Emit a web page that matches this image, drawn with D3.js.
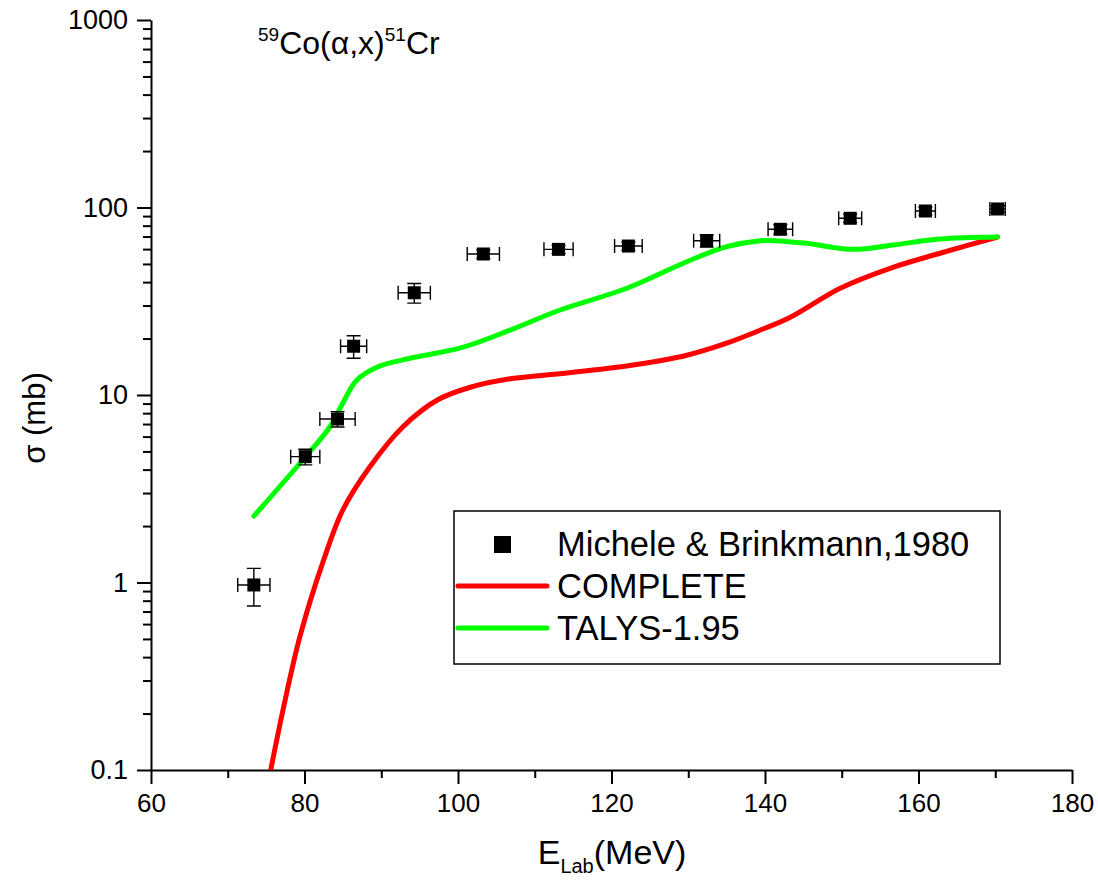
<!DOCTYPE html>
<html>
<head>
<meta charset="utf-8">
<script src="https://cdn.jsdelivr.net/npm/d3@7"></script>
<style>
body { margin:0; background:#fff; }
svg text { font-family: Arial, "Liberation Sans", sans-serif; fill:#000; }
</style>
</head>
<body>
<svg id="chart" width="1098" height="886"></svg>
<script>
// experimental points, Michele & Brinkmann 1980
var exp_e   = [73.4, 80.1, 84.3, 86.4, 94.3, 103.3, 113.1, 122.2, 132.4, 142.0, 151.1, 160.9, 170.3]
var exp_de  = [2.1, 1.9, 2.3, 1.7, 2.1, 2.1, 1.9, 1.8, 1.7, 1.6, 1.5, 1.3, 1.0]
var exp_sig = [0.97, 4.69, 7.45, 18.2, 35.1, 56.5, 59.8, 62.3, 66.5, 76.5, 87.6, 95.8, 98.2]
var exp_ds  = [0.22, 0.45, 0.7, 2.5, 4.2, 3.0, 3.0, 3.2, 5.0, 4.5, 4.5, 4.5, 4.0]

// COMPLETE
var comp_e   = [75.6, 77.2, 79.4, 82.5, 85.0, 88.5, 92.8, 97.3, 101.6, 106.8, 114.2, 122.8, 129.8, 135.0, 139.4, 143.3, 149.8, 156.3, 162.8, 170.3]
var comp_sig = [0.1, 0.209, 0.514, 1.32, 2.44, 4.13, 6.75, 9.4, 11.0, 12.2, 13.1, 14.45, 16.3, 18.9, 22.2, 26.0, 37.1, 47.4, 57.0, 69.6]

// TALYS-1.95
var talys_e   = [73.4, 80.1, 83.3, 85.0, 86.8, 89.5, 92.8, 100.7, 106.8, 113.3, 122.0, 129.8, 135.0, 139.4, 141.1, 145.4, 151.5, 156.7, 162.8, 170.3]
var talys_sig = [2.26, 4.67, 6.75, 9.07, 12.0, 14.1, 15.4, 18.0, 22.2, 28.4, 37.1, 51.4, 61.8, 66.5, 66.5, 64.4, 59.8, 63.1, 67.9, 69.6]

var x_ticks = [60, 80, 100, 120, 140, 160, 180]
var y_ticks = [0.1, 1, 10, 100, 1000]
var legend_names = ['Michele & Brinkmann,1980', 'COMPLETE', 'TALYS-1.95']

var svg = d3.select('#chart')
var p_left = 151, p_right = 1072, p_top = 20, p_bottom = 770

var x = d3.scaleLinear().domain([60, 180]).range([p_left, p_right])
var y = d3.scaleLog().domain([0.1, 1000]).range([p_bottom, p_top])

var minor_x = d3.range(70, 180, 20)
var minor_y = []
y_ticks.slice(0, -1).forEach(function (d) {
    for (var k = 2; k < 10; k++) minor_y.push(d * k)
})

function style_axis(g) {
    g.select('.domain').attr('stroke', '#000').attr('stroke-width', 2)
    g.selectAll('.tick line').attr('stroke', '#000').attr('stroke-width', 2)
}

// x axis
var gx = svg.append('g').attr('transform', 'translate(0,' + p_bottom + ')')
gx.call(d3.axisBottom(x).tickValues(x_ticks).tickSize(14).tickSizeOuter(0).tickPadding(10).tickFormat(d3.format('d')))
gx.selectAll('.tick text').attr('font-size', 26)
style_axis(gx)
var gxm = svg.append('g').attr('transform', 'translate(0,' + p_bottom + ')')
gxm.call(d3.axisBottom(x).tickValues(minor_x).tickSize(8).tickSizeOuter(0).tickFormat(''))
gxm.select('.domain').remove()
style_axis(gxm)

// y axis
var gy = svg.append('g').attr('transform', 'translate(' + p_left + ',0)')
gy.call(d3.axisLeft(y).tickValues(y_ticks).tickSize(14).tickSizeOuter(0).tickPadding(9).tickFormat(function (d) { return d < 1 ? '0.1' : String(d) }))
gy.selectAll('.tick text').attr('font-size', 27)
style_axis(gy)
var gym = svg.append('g').attr('transform', 'translate(' + p_left + ',0)')
gym.call(d3.axisLeft(y).tickValues(minor_y).tickSize(8).tickSizeOuter(0).tickFormat(''))
gym.select('.domain').remove()
style_axis(gym)

// curves
var clip = svg.append('clipPath').attr('id', 'plotclip')
clip.append('rect').attr('x', p_left).attr('y', p_top).attr('width', p_right - p_left).attr('height', p_bottom - p_top)

function curve_data(es, ss) {
    return es.map(function (e, i) { return [e, ss[i]] })
}
var line = d3.line()
    .x(function (d) { return x(d[0]) })
    .y(function (d) { return y(d[1]) })
    .curve(d3.curveCatmullRom.alpha(0.5))

svg.append('path').datum(curve_data(comp_e, comp_sig))
    .attr('clip-path', 'url(#plotclip)')
    .attr('d', line).attr('fill', 'none').attr('stroke', '#ff0000')
    .attr('stroke-width', 5).attr('stroke-linecap', 'round')
svg.append('path').datum(curve_data(talys_e, talys_sig))
    .attr('d', line).attr('fill', 'none').attr('stroke', '#00ff00')
    .attr('stroke-width', 5).attr('stroke-linecap', 'round')

// points with error bars
var pts = svg.append('g').selectAll('g').data(exp_e).enter().append('g')
var cap = 7
pts.append('path')
    .attr('d', function (d, i) {
        var cx = x(d), cy = y(exp_sig[i])
        var x0 = x(d - exp_de[i]), x1 = x(d + exp_de[i])
        var y0 = y(exp_sig[i] + exp_ds[i]), y1 = y(exp_sig[i] - exp_ds[i])
        return 'M' + x0 + ',' + cy + 'H' + x1 +
            'M' + x0 + ',' + (cy - cap) + 'V' + (cy + cap) +
            'M' + x1 + ',' + (cy - cap) + 'V' + (cy + cap) +
            'M' + cx + ',' + y0 + 'V' + y1 +
            'M' + (cx - cap) + ',' + y0 + 'H' + (cx + cap) +
            'M' + (cx - cap) + ',' + y1 + 'H' + (cx + cap)
    })
    .attr('stroke', '#000').attr('stroke-width', 1.4).attr('fill', 'none')
pts.append('rect')
    .attr('x', function (d) { return x(d) - 6.5 })
    .attr('y', function (d, i) { return y(exp_sig[i]) - 6.5 })
    .attr('width', 13).attr('height', 13).attr('fill', '#000')

// legend
var lg = svg.append('g')
lg.append('rect').attr('x', 454).attr('y', 511).attr('width', 546).attr('height', 153)
    .attr('fill', 'none').attr('stroke', '#000').attr('stroke-width', 1.5)
lg.append('rect').attr('x', 494).attr('y', 536).attr('width', 17).attr('height', 17).attr('fill', '#000')
lg.append('line').attr('x1', 458).attr('x2', 547).attr('y1', 586).attr('y2', 586)
    .attr('stroke', '#ff0000').attr('stroke-width', 5).attr('stroke-linecap', 'round')
lg.append('line').attr('x1', 458).attr('x2', 547).attr('y1', 628).attr('y2', 628)
    .attr('stroke', '#00ff00').attr('stroke-width', 5).attr('stroke-linecap', 'round')
lg.selectAll('text.lab').data(legend_names).enter().append('text')
    .attr('x', 557).attr('y', function (d, i) { return 556 + i * 42 })
    .attr('font-size', 34.5).text(function (d) { return d })

// title
var t = svg.append('text').attr('x', 258).attr('y', 54).attr('font-size', 32)
t.append('tspan').attr('font-size', 19).attr('dy', -13).text('59')
t.append('tspan').attr('dy', 13).text('Co(α,x)')
t.append('tspan').attr('font-size', 19).attr('dy', -13).text('51')
t.append('tspan').attr('dy', 13).text('Cr')

// axis titles
var xl = svg.append('text').attr('x', 612).attr('y', 864).attr('text-anchor', 'middle').attr('font-size', 34)
xl.append('tspan').text('E')
xl.append('tspan').attr('font-size', 20).attr('dy', 9).text('Lab')
xl.append('tspan').attr('dy', -9).text('(MeV)')

svg.append('text').attr('transform', 'translate(45,418) rotate(-90)')
    .attr('text-anchor', 'middle').attr('font-size', 31).text('σ (mb)')
</script>
</body>
</html>
